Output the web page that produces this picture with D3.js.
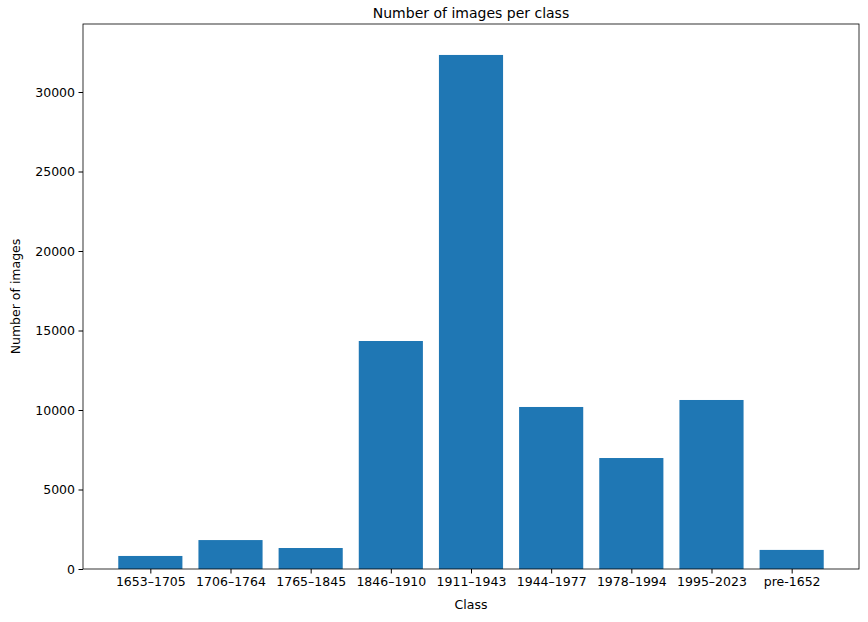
<!DOCTYPE html>
<html><head><meta charset="utf-8">
<script src="https://cdn.jsdelivr.net/npm/d3@7"></script>
<style>body{margin:0;background:#fff}text{font-family:"DejaVu Sans",sans-serif}</style>
</head><body><svg id="c" width="868" height="622"></svg>
<script>
const categories=["1653–1705","1706–1764","1765–1845","1846–1910","1911–1943","1944–1977","1978–1994","1995–2023","pre-1652"];
const values=[820,1820,1320,14340,32330,10190,6980,10630,1200];
const yTicks=[0,5000,10000,15000,20000,25000,30000];
const svg=d3.select("#c");
const L=83,R=859,T=24,B=569;
const x=d3.scaleLinear().domain([-0.84,8.84]).range([L,R]);
const y=d3.scaleLinear().domain([0,34277]).range([B,T]);
svg.selectAll("rect.bar").data(values).enter().append("rect")
 .attr("x",(d,i)=>x(i-0.4)).attr("width",x(0.8)-x(0))
 .attr("y",d=>y(d)).attr("height",d=>B-y(d)).attr("fill","#1f77b4");
const xa=svg.append("g").attr("transform",`translate(0,${B})`)
 .call(d3.axisBottom(x).tickValues(d3.range(categories.length)).tickFormat(i=>categories[i]).tickSize(4.5).tickPadding(3.5));
const ya=svg.append("g").attr("transform",`translate(${L},0)`)
 .call(d3.axisLeft(y).tickValues(yTicks).tickFormat(d3.format("d")).tickSize(4.5).tickPadding(3.5));
[xa,ya].forEach(a=>{a.select(".domain").remove();a.selectAll("text").attr("font-size",12.5).attr("fill","#000");a.selectAll("line").attr("stroke","#000");});
svg.append("rect").attr("x",L).attr("y",T).attr("width",R-L).attr("height",B-T).attr("fill","none").attr("stroke","#000").attr("stroke-width",0.8);
svg.append("text").attr("x",(L+R)/2).attr("y",18).attr("text-anchor","middle").attr("font-size",14).text("Number of images per class");
svg.append("text").attr("x",(L+R)/2).attr("y",609).attr("text-anchor","middle").attr("font-size",12.5).text("Class");
svg.append("text").attr("transform",`translate(20,${(T+B)/2}) rotate(-90)`).attr("text-anchor","middle").attr("font-size",12.5).text("Number of images");
</script></body></html>
